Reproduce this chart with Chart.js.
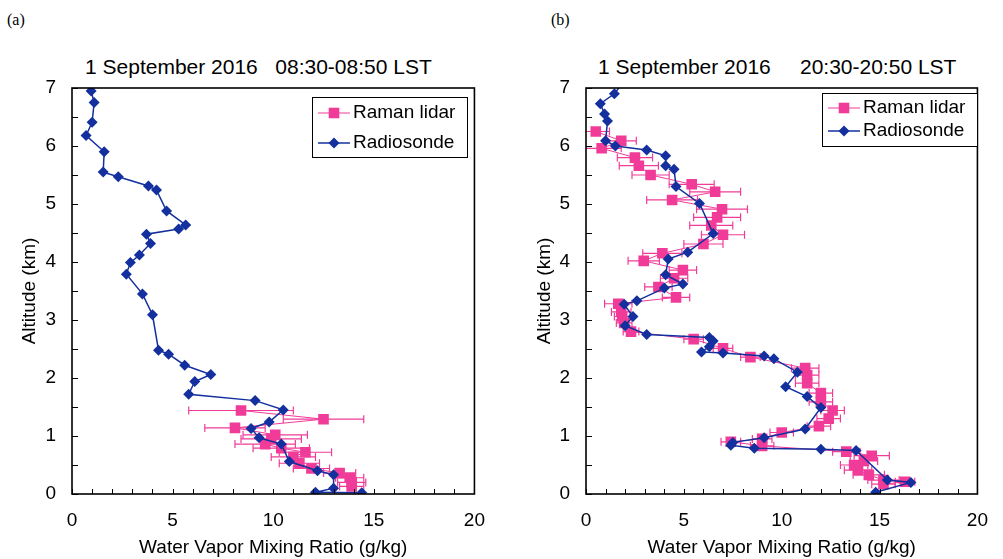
<!DOCTYPE html>
<html>
<head>
<meta charset="utf-8">
<script src="https://cdn.jsdelivr.net/npm/chart.js@4.4.1/dist/chart.umd.min.js"></script>
<style>
  body { margin: 0; background: #fff; width: 1003px; height: 559px; position: relative; overflow: hidden;
         font-family: "Liberation Sans", Arial, sans-serif; }
  canvas { position: absolute; top: 0; }
  #panelA { left: 0; }
  #panelB { left: 500px; }
  .tag { position: absolute; font-family: "Liberation Serif", serif; font-size: 16px; }
  .head { position: absolute; font-size: 21px; white-space: pre; }
</style>
</head>
<body>
<div class="tag" style="left:7px; top:11px">(a)</div>
<div class="tag" style="left:551px; top:11px">(b)</div>
<div class="head" style="left:85px; top:55px">1 September 2016   08:30-08:50 LST</div>
<div class="head" style="left:598px; top:55px">1 September 2016     20:30-20:50 LST</div>
<canvas id="panelA" width="500" height="559"></canvas>
<canvas id="panelB" width="503" height="559"></canvas>
<script>
'use strict';

// tick labels
const xTickLabels = [0, 5, 10, 15, 20];
const yTickLabels = [0, 1, 2, 3, 4, 5, 6, 7];

// (a) 08:30-08:50 LST
const sondeAltA = [0.02, 0.03, 0.10, 0.33, 0.40, 0.56, 0.86, 0.97, 1.13, 1.24, 1.45, 1.61, 1.72, 1.94, 2.06, 2.22, 2.41, 2.48,
                   3.09, 3.45, 3.79, 3.99, 4.12, 4.32, 4.48, 4.57, 4.64, 4.88, 5.24, 5.31, 5.47, 5.55, 5.90, 6.18, 6.41, 6.75, 6.95];
const sondeQA   = [14.4, 12.1, 13.0, 13.0, 12.2, 10.8, 10.4, 9.3, 8.9, 9.8, 10.5, 9.1, 5.8, 6.1, 6.9, 5.6, 4.8, 4.3,
                   4.0, 3.5, 2.7, 2.9, 3.35, 3.9, 3.7, 5.3, 5.65, 4.7, 4.2, 3.8, 2.3, 1.55, 1.6, 0.7, 1.0, 1.1, 0.95];
const lidarAltA = [0.13, 0.20, 0.28, 0.36, 0.44, 0.53, 0.64, 0.72, 0.79, 0.86, 0.95, 1.02, 1.14, 1.29, 1.44];
const lidarQA   = [13.9, 13.9, 13.8, 13.3, 11.9, 11.3, 11.0, 11.6, 10.4, 9.6, 9.9, 10.1, 8.1, 12.5, 8.4];
const lidarErrA = [0.6, 0.7, 0.7, 0.8, 0.9, 1.0, 1.1, 1.3, 1.4, 1.5, 1.5, 1.6, 1.5, 2.0, 2.6];

// (b) 20:30-20:50 LST
const sondeAltB = [0.03, 0.20, 0.24, 0.75, 0.77, 0.79, 0.84, 0.89, 0.97, 1.12, 1.49, 1.68, 1.85, 2.10, 2.33, 2.38, 2.43, 2.45,
                   2.54, 2.64, 2.70, 2.75, 2.90, 3.06, 3.27, 3.33, 3.55, 3.62, 3.78, 4.05, 4.17, 4.49, 5.01, 5.30, 5.60,
                   5.66, 5.83, 5.93, 6.00, 6.09, 6.43, 6.55, 6.73, 6.90, 7.10];
const sondeQB   = [14.8, 16.6, 15.4, 13.8, 12.0, 8.6, 7.4, 7.5, 9.1, 11.2, 12.0, 11.3, 10.2, 10.8, 9.6, 9.1, 7.0, 5.9,
                   6.3, 6.5, 6.3, 3.1, 2.0, 2.4, 1.95, 2.6, 4.0, 4.95, 4.07, 4.2, 5.2, 6.5, 5.8, 4.6, 4.5,
                   4.07, 4.07, 3.1, 1.5, 1.0, 1.1, 0.95, 0.73, 1.45, 1.9];
const lidarAltB = [0.17, 0.21, 0.24, 0.33, 0.41, 0.50, 0.57, 0.66, 0.73, 0.83, 0.90, 0.95, 1.06, 1.17, 1.30, 1.44, 1.59,
                   1.74, 1.91, 2.05, 2.17, 2.36, 2.51, 2.67, 2.80, 2.95, 3.06, 3.14, 3.28, 3.39, 3.57, 3.72, 3.86,
                   4.02, 4.15, 4.31, 4.47, 4.63, 4.77, 4.91, 5.07, 5.21, 5.34, 5.50, 5.66, 5.80, 5.96, 6.09, 6.25];
const lidarQB   = [15.2, 16.3, 15.2, 14.45, 13.9, 13.7, 14.2, 14.6, 13.3, 9.0, 7.4, 9.0, 10.0, 11.9, 12.4, 12.6, 12.0,
                   12.0, 11.3, 11.3, 11.2, 8.4, 7.0, 5.5, 2.3, 1.95, 1.85, 1.8, 1.65, 4.6, 3.7, 4.5, 4.95,
                   2.95, 3.9, 6.0, 7.0, 6.4, 6.7, 6.95, 4.4, 6.6, 5.4, 3.3, 2.7, 2.5, 0.8, 1.8, 0.5];
const lidarErrB = [0.6, 0.5, 0.8, 0.8, 0.7, 0.7, 0.7, 0.9, 0.7, 0.6, 0.5, 0.5, 0.6, 0.6, 0.6, 0.6, 0.6,
                   0.6, 0.6, 0.6, 0.7, 0.5, 0.5, 0.5, 0.4, 0.4, 0.4, 0.5, 0.7, 0.7, 0.7, 0.7, 0.7,
                   0.8, 1.0, 1.0, 1.1, 1.1, 1.2, 1.3, 1.3, 1.3, 1.15, 0.95, 1.0, 0.9, 1.0, 0.77, 0.7];

const BLUE = '#13309e';
const PINK = '#f03c98';
const FONT = '"Liberation Sans", Arial, sans-serif';

Chart.defaults.font.family = FONT;
Chart.defaults.color = '#000';

const zip = (xs, ys) => xs.map((v, i) => ({ x: v, y: ys[i] }));

// horizontal error bars, drawn under the markers
const errorBars = {
    id: 'errorBars',
    beforeDatasetsDraw(chart) {
        const { ctx, scales: { x, y }, chartArea: a } = chart;
        ctx.save();
        ctx.beginPath();
        ctx.rect(a.left, a.top, a.width, a.height);
        ctx.clip();
        ctx.strokeStyle = PINK;
        ctx.lineWidth = 1.2;
        chart.data.datasets.forEach(ds => {
            if (!ds.errors) return;
            ds.data.forEach((p, i) => {
                const e = ds.errors[i];
                const x1 = x.getPixelForValue(p.x - e);
                const x2 = x.getPixelForValue(p.x + e);
                const py = y.getPixelForValue(p.y);
                ctx.beginPath();
                ctx.moveTo(x1, py); ctx.lineTo(x2, py);
                ctx.moveTo(x1, py - 4); ctx.lineTo(x1, py + 4);
                ctx.moveTo(x2, py - 4); ctx.lineTo(x2, py + 4);
                ctx.stroke();
            });
        });
        ctx.restore();
    }
};

// box round the plot plus inward tick marks
const frame = {
    id: 'frame',
    afterDraw(chart) {
        const { ctx, chartArea: a, scales: { x, y } } = chart;
        ctx.save();
        ctx.strokeStyle = '#000';
        ctx.lineWidth = 1;
        for (let v = x.min; v <= x.max; v += 1) {
            const px = Math.round(x.getPixelForValue(v)) + 0.5;
            ctx.beginPath(); ctx.moveTo(px, a.bottom); ctx.lineTo(px, a.bottom - 5); ctx.stroke();
        }
        for (let v = y.min; v <= y.max; v += 0.5) {
            const py = Math.round(y.getPixelForValue(v)) + 0.5;
            ctx.beginPath(); ctx.moveTo(a.left, py); ctx.lineTo(a.left + 6, py); ctx.stroke();
        }
        ctx.lineWidth = 1.6;
        ctx.strokeRect(a.left, a.top, a.width, a.height);
        ctx.restore();
    }
};

const boxLegend = {
    id: 'boxLegend',
    afterDraw(chart, args, o) {
        const ctx = chart.ctx;
        ctx.save();
        ctx.fillStyle = '#fff';
        ctx.fillRect(o.x, o.y, o.w, o.h);
        ctx.strokeStyle = '#000';
        ctx.lineWidth = 1;
        ctx.strokeRect(o.x + 0.5, o.y + 0.5, o.w, o.h);
        [1, 0].forEach((di, row) => {
            const ds = chart.data.datasets[di];
            const cy = o.y + o.first + row * o.gap;
            ctx.strokeStyle = ds.borderColor;
            ctx.lineWidth = ds.borderWidth;
            ctx.beginPath(); ctx.moveTo(o.x + 6, cy); ctx.lineTo(o.x + 38, cy); ctx.stroke();
            ctx.fillStyle = ds.pointBackgroundColor;
            Chart.helpers.drawPoint(ctx, { pointStyle: ds.pointStyle, radius: ds.pointRadius, borderWidth: 0 }, o.x + 22, cy);
            ctx.fillStyle = '#000';
            ctx.font = '19px ' + FONT;
            ctx.textBaseline = 'middle';
            ctx.fillText(ds.label, o.x + 41, cy);
        });
        ctx.restore();
    }
};

function makePanel(id, p) {
    return new Chart(document.getElementById(id), {
        type: 'scatter',
        data: {
            datasets: [{
                label: 'Radiosonde',
                data: zip(p.sondeQ, p.sondeAlt),
                showLine: true,
                borderColor: BLUE,
                borderWidth: 1.5,
                pointStyle: 'rectRot',
                pointRadius: 5.5,
                pointBackgroundColor: BLUE,
                pointBorderWidth: 0
            }, {
                label: 'Raman lidar',
                data: zip(p.lidarQ, p.lidarAlt),
                errors: p.lidarErr,
                showLine: true,
                borderColor: PINK,
                borderWidth: 1,
                pointStyle: 'rect',
                pointRadius: 7.5,
                pointBackgroundColor: PINK,
                pointBorderWidth: 0
            }]
        },
        options: {
            responsive: false,
            animation: false,
            devicePixelRatio: 1,
            events: [],
            layout: { padding: { left: 0, right: p.padRight, top: 88, bottom: 0 } },
            plugins: {
                legend: { display: false },
                tooltip: { enabled: false },
                boxLegend: p.legend
            },
            scales: {
                x: {
                    type: 'linear', min: 0, max: 20,
                    afterFit: s => { s.height = 65; },
                    afterBuildTicks: s => { s.ticks = xTickLabels.map(v => ({ value: v })); },
                    grid: { display: false, drawTicks: false },
                    border: { display: false },
                    ticks: { font: { size: 19 }, padding: 15 },
                    title: { display: true, text: 'Water Vapor Mixing Ratio (g/kg)', font: { size: 19 }, padding: { top: 0, bottom: 0 } }
                },
                y: {
                    type: 'linear', min: 0, max: 7,
                    afterFit: s => { s.width = p.yWidth; },
                    afterBuildTicks: s => { s.ticks = yTickLabels.map(v => ({ value: v })); },
                    grid: { display: false, drawTicks: false },
                    border: { display: false },
                    ticks: { font: { size: 19 }, padding: 16 },
                    title: { display: true, text: 'Altitude (km)', font: { size: 19 }, padding: { top: p.yTitlePad, bottom: 0 } }
                }
            }
        },
        plugins: [errorBars, frame, boxLegend]
    });
}

makePanel('panelA', {
    sondeQ: sondeQA, sondeAlt: sondeAltA,
    lidarQ: lidarQA, lidarAlt: lidarAltA, lidarErr: lidarErrA,
    yWidth: 72, padRight: 22, yTitlePad: 18,
    legend: { x: 312, y: 97, w: 155, h: 60, first: 16, gap: 30 }
});

makePanel('panelB', {
    sondeQ: sondeQB, sondeAlt: sondeAltB,
    lidarQ: lidarQB, lidarAlt: lidarAltB, lidarErr: lidarErrB,
    yWidth: 86, padRight: 18, yTitlePad: 33,
    legend: { x: 322, y: 93, w: 155, h: 53, first: 15, gap: 23 }
});
</script>
</body>
</html>
